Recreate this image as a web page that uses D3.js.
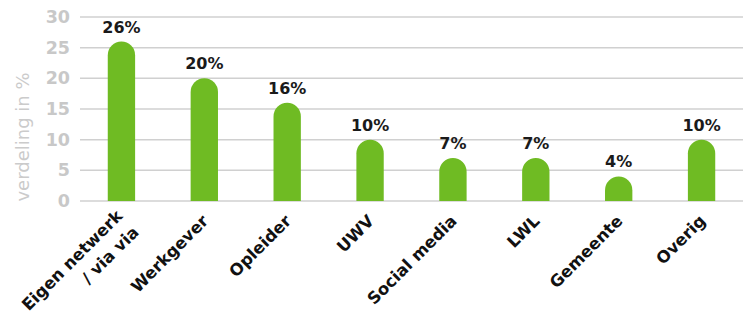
<!DOCTYPE html>
<html>
<head>
<meta charset="utf-8">
<script src="https://d3js.org/d3.v7.min.js"></script>
<style>
  body { margin: 0; background: #fff; }
  text { font-family: "DejaVu Sans", sans-serif; }
</style>
</head>
<body>
<script>
// data
var categories = [["Eigen netwerk", "/ via via"], ["Werkgever"], ["Opleider"], ["UWV"],
    ["Social media"], ["LWL"], ["Gemeente"], ["Overig"]];
var values = [26, 20, 16, 10, 7, 7, 4, 10];
var yTicks = [0, 5, 10, 15, 20, 25, 30];

var width = 747;
var height = 313;
var margin = {top: 17, right: 4, bottom: 112, left: 80};

var svg = d3.select("body")
    .append("svg")
    .attr("width", width)
    .attr("height", height);

var x = d3.scaleBand()
    .domain(d3.range(categories.length))
    .range([margin.left, width - margin.right])
    .paddingInner(0.67)
    .paddingOuter(0.335);

var y = d3.scaleLinear()
    .domain([0, 30])
    .range([height - margin.bottom, margin.top]);

// gridlines
svg.append("g")
    .selectAll("line")
    .data(yTicks)
    .enter().append("line")
    .attr("x1", margin.left)
    .attr("x2", width - margin.right)
    .attr("y1", function(d) { return y(d); })
    .attr("y2", function(d) { return y(d); })
    .attr("stroke", "#d0d0d0")
    .attr("stroke-width", 1.5);

// y axis labels
svg.append("g")
    .call(d3.axisLeft(y).tickValues(yTicks).tickSize(0).tickPadding(10))
    .attr("transform", "translate(" + (margin.left) + ",0)")
    .call(function(g) { g.select(".domain").remove(); })
    .selectAll("text")
    .attr("fill", "#c8c8c8")
    .attr("font-size", 17.5)
    .attr("font-weight", "bold")
    .attr("font-family", "'DejaVu Sans', sans-serif");

svg.append("text")
    .attr("transform", "translate(29," + (y(0) - 64) + ") rotate(-90)")
    .attr("text-anchor", "middle")
    .attr("fill", "#cbcbcb")
    .attr("font-size", 18)
    .text("verdeling in %");

// bars with rounded tops
var r = x.bandwidth() / 2;
svg.append("g")
    .selectAll("path")
    .data(values)
    .enter().append("path")
    .attr("fill", "#6fbb23")
    .attr("d", function(d, i) {
        var x0 = x(i), x1 = x(i) + x.bandwidth();
        var top = y(d), bottom = y(0);
        return "M" + x0 + "," + bottom +
            "V" + (top + r) +
            "A" + r + "," + r + " 0 0 1 " + x1 + "," + (top + r) +
            "V" + bottom + "Z";
    });

// value labels
svg.append("g")
    .selectAll("text")
    .data(values)
    .enter().append("text")
    .attr("x", function(d, i) { return x(i) + x.bandwidth() / 2; })
    .attr("y", function(d) { return y(d) - 9; })
    .attr("text-anchor", "middle")
    .attr("font-size", 16)
    .attr("font-weight", "bold")
    .attr("fill", "#1a1a1a")
    .text(function(d) { return d + "%"; });

// category labels, rotated
var labels = svg.append("g")
    .selectAll("text")
    .data(categories)
    .enter().append("text")
    .attr("transform", function(d, i) {
        var cx = x(i) + x.bandwidth() / 2 + 5;
        var cy = y(0) + 21;
        if (d.length > 1) { cx -= 3; cy -= 5; }
        return "translate(" + cx + "," + cy + ") rotate(-45)";
    })
    .attr("text-anchor", "end")
    .attr("font-size", 16.5)
    .attr("font-weight", "bold")
    .attr("fill", "#111");

labels.selectAll("tspan")
    .data(function(d) { return d; })
    .enter().append("tspan")
    .attr("x", 0)
    .attr("dy", function(d, j) { return j === 0 ? 0 : "1.4em"; })
    .text(function(d) { return d; });
</script>
</body>
</html>
